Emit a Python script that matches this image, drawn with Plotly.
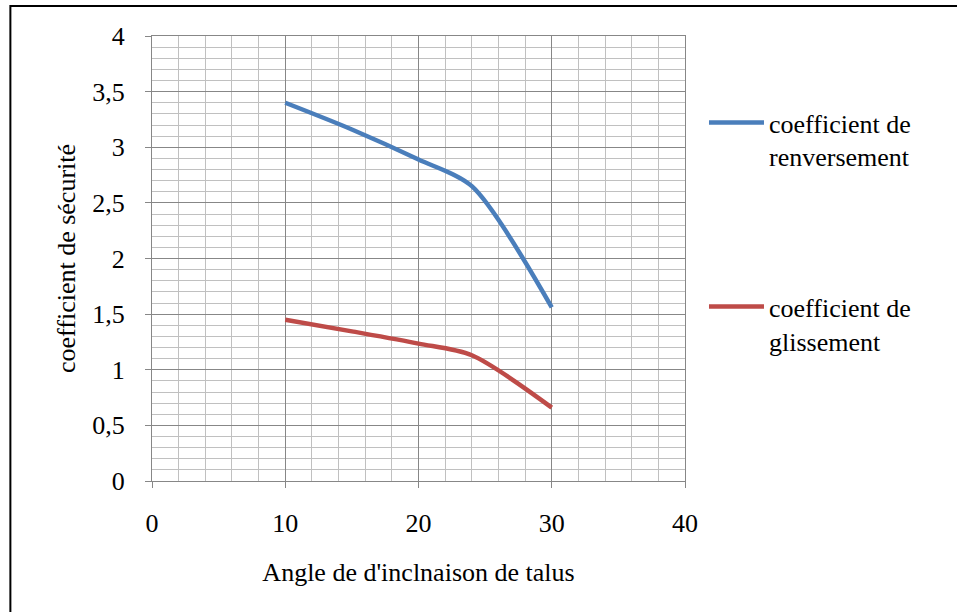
import plotly.graph_objects as go

angles = [10, 15, 20, 24, 30]
renversement = [3.40, 3.16, 2.89, 2.65, 1.56]
glissement = [1.45, 1.345, 1.235, 1.13, 0.66]

x_ticks = [0, 10, 20, 30, 40]
y_ticks = [0, 0.5, 1, 1.5, 2, 2.5, 3, 3.5, 4]
y_tick_labels = ["0", "0,5", "1", "1,5", "2", "2,5", "3", "3,5", "4"]

name_r = "coefficient de<br>renversement"
name_g = "coefficient de<br>glissement"
x_title = "Angle de d'inclnaison de talus"
y_title = "coefficient de sécurité"

FONT = "Liberation Serif"
FS = 26

fig = go.Figure()
fig.add_trace(go.Scatter(x=angles, y=renversement, mode="lines", name=name_r,
                         line=dict(color="#4A7EBB", width=4.5, shape="spline", smoothing=0.8),
                         legend="legend"))
fig.add_trace(go.Scatter(x=angles, y=glissement, mode="lines", name=name_g,
                         line=dict(color="#BE4B48", width=4.5, shape="spline", smoothing=0.8),
                         legend="legend2"))

W, H = 957, 612
L, R, T, B = 151.7, 957 - 685, 36, 612 - 480.6
pw, ph = W - L - R, H - T - B

def px_to_paper_x(px):
    return (px - L) / pw

def px_to_paper_y(py):
    return (H - B - py) / ph

leg_common = dict(xanchor="left", yanchor="top", valign="top", itemwidth=55,
                  font=dict(family=FONT, size=FS, color="black"),
                  bgcolor="rgba(0,0,0,0)")

fig.update_layout(
    width=W, height=H,
    margin=dict(l=L, r=R, t=T, b=B),
    paper_bgcolor="white", plot_bgcolor="white",
    font=dict(family=FONT, size=FS, color="black"),
    showlegend=True,
    legend=dict(x=px_to_paper_x(704), y=px_to_paper_y(99), **leg_common),
    legend2=dict(x=px_to_paper_x(704), y=px_to_paper_y(283), **leg_common),
    xaxis=dict(range=[0, 40], tickvals=x_ticks, ticktext=[str(v) for v in x_ticks],
               showgrid=True, gridcolor="#878787", gridwidth=1.3,
               minor=dict(dtick=2, showgrid=True, gridcolor="#C0C0C0", gridwidth=1.3),
               zeroline=False, showline=True, linecolor="#878787", linewidth=1.3,
               mirror=True, ticks="outside", ticklen=6, tickcolor="#878787",
               ticklabelstandoff=13,
               tickfont=dict(family=FONT, size=FS),
               title=dict(text=x_title, standoff=25, font=dict(family=FONT, size=FS))),
    yaxis=dict(range=[0, 4], tickvals=y_ticks, ticktext=y_tick_labels,
               showgrid=True, gridcolor="#878787", gridwidth=1.3,
               minor=dict(dtick=0.1, showgrid=True, gridcolor="#C0C0C0", gridwidth=1.3),
               zeroline=False, showline=True, linecolor="#878787", linewidth=1.3,
               mirror=True, ticks="outside", ticklen=6, tickcolor="#878787",
               ticklabelstandoff=15,
               tickfont=dict(family=FONT, size=FS),
               title=dict(text=y_title, standoff=9, font=dict(family=FONT, size=FS))),
    shapes=[dict(type="rect", xref="paper", yref="paper",
                 x0=px_to_paper_x(10), x1=px_to_paper_x(965),
                 y0=px_to_paper_y(620), y1=px_to_paper_y(6),
                 line=dict(color="black", width=2), fillcolor="rgba(0,0,0,0)", layer="below")],
)

fig.write_html("out.html")
